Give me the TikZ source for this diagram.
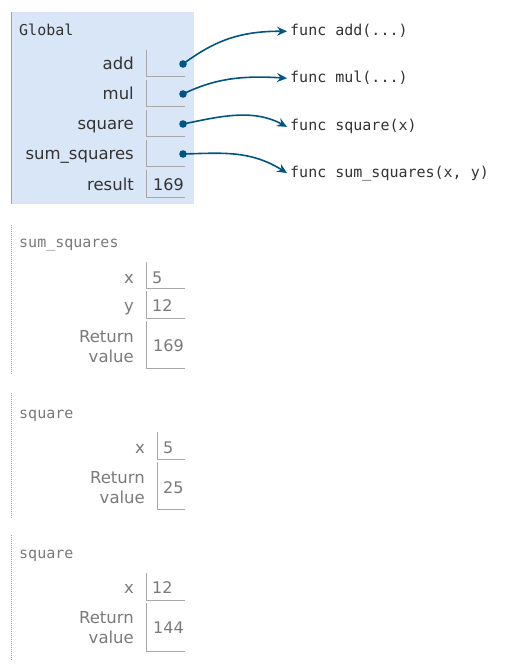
\documentclass[tikz,border=0pt]{standalone}
\usepackage{fontspec}
\setmainfont{DejaVu Sans}
\setmonofont{DejaVu Sans Mono}
\usetikzlibrary{arrows.meta}
\definecolor{framebg}{HTML}{D9E6F8}
\definecolor{arrowc}{HTML}{005583}
\definecolor{boxline}{HTML}{A8A8A8}
\definecolor{frameline}{HTML}{A0A0A0}
\definecolor{activetxt}{HTML}{333333}
\definecolor{inactivetxt}{HTML}{7A7A7A}
\begin{document}
\begin{tikzpicture}[x=1pt,y=-1pt,
  lbl/.style={anchor=base east, inner sep=0pt, font=\fontsize{16.5}{20}\selectfont},
  rlbl/.style={anchor=north east, inner sep=0pt, align=right, font=\fontsize{16.5}{20}\selectfont},
  val/.style={anchor=base west, inner sep=0pt, font=\fontsize{16}{20}\selectfont},
  frametitle/.style={anchor=base west, inner sep=0pt, font=\ttfamily\fontsize{15}{18}\selectfont},
  functext/.style={anchor=base west, inner sep=0pt, font=\ttfamily\fontsize{15}{18}\selectfont, text=activetxt},
  vbox/.style={draw=boxline, line width=1pt},
  ptr/.style={draw=arrowc, line width=1.6pt, -{Stealth[length=10pt,width=9pt,inset=3.5pt]}},
  ptrdot/.style={fill=arrowc},
  dotted border/.style={draw=frameline, line width=1pt, dash pattern=on 1pt off 1pt},
]
\useasboundingbox (0,0) rectangle (524,671);

% ---------- Global frame ----------
\fill[framebg] (11,12) rectangle (194,204);
\draw[frameline, line width=1pt] (11.5,12) -- (11.5,204);
\node[frametitle, text=activetxt] (gt) at (19,36) {Global};

\begin{scope}[every node/.append style={text=activetxt}]
\node[lbl] (ladd) at (134,70) {add};
\node[lbl] (lmul) at (134,100) {mul};
\node[lbl] (lsq) at (134,130) {square};
\node[lbl] (lss) at (134,160) {sum\_squares};
\node[lbl] (lres) at (134,190) {result};
\node[val] (vres) at (153,190) {169};
\end{scope}

\foreach \t in {50,80,110,140,170}{
  \draw[vbox] (146,\t) -- (146,\t+27) -- (185,\t+27);
}

\coordinate (dadd) at (183,64);
\coordinate (dmul) at (183,94);
\coordinate (dsq) at (183,124);
\coordinate (dss) at (183,154);
\foreach \d in {dadd,dmul,dsq,dss}{\fill[ptrdot] (\d) circle (3.8pt);}

\node[functext] (fadd) at (290,36) {func add(...)};
\node[functext] (fmul) at (290,83) {func mul(...)};
\node[functext] (fsq) at (290,131) {func square(x)};
\node[functext] (fss) at (290,177) {func sum\_squares(x, y)};

\draw[ptr] (dadd) .. controls (213,42) and (238,31) .. ([xshift=-3pt]fadd.west);
\draw[ptr] (dmul) .. controls (212,80) and (238,75) .. ([xshift=-3pt]fmul.west);
\draw[ptr] (dsq) .. controls (218,117) and (252,108) .. ([xshift=-3pt]fsq.west);
\draw[ptr] (dss) .. controls (222,153) and (250,150) .. ([xshift=-3pt]fss.west);

% ---------- sum_squares frame ----------
\begin{scope}[every node/.append style={text=inactivetxt}]
\draw[dotted border] (11.5,225) -- (11.5,375);
\node[frametitle] (t2) at (19,247) {sum\_squares};
\node[lbl] (l2x) at (134,283) {x};
\node[lbl] (l2y) at (134,311) {y};
\node[rlbl] (l2r) at (134,330) {Return\\value};
\node[val] (v2x) at (152,283) {5};
\node[val] (v2y) at (152,311) {12};
\node[val] (v2r) at (153,351) {169};
\draw[vbox] (146,262) -- (146,288) -- (185,288);
\draw[vbox] (146,291) -- (146,318) -- (185,318);
\draw[vbox] (146,321) -- (146,368) -- (185,368);

% ---------- square frame 1 ----------
\draw[dotted border] (11.5,393) -- (11.5,518);
\node[frametitle] (t3) at (19,418) {square};
\node[lbl] (l3x) at (145,453) {x};
\node[rlbl] (l3r) at (145,471) {Return\\value};
\node[val] (v3x) at (163,453) {5};
\node[val] (v3r) at (163,493) {25};
\draw[vbox] (157,432) -- (157,459) -- (185,459);
\draw[vbox] (157,462) -- (157,509) -- (185,509);

% ---------- square frame 2 ----------
\draw[dotted border] (11.5,535) -- (11.5,660);
\node[frametitle] (t4) at (19,558) {square};
\node[lbl] (l4x) at (134,593) {x};
\node[rlbl] (l4r) at (134,611) {Return\\value};
\node[val] (v4x) at (152,593) {12};
\node[val] (v4r) at (153,633) {144};
\draw[vbox] (146,573) -- (146,600) -- (185,600);
\draw[vbox] (146,603) -- (146,651) -- (185,651);
\end{scope}
\end{tikzpicture}
\end{document}
